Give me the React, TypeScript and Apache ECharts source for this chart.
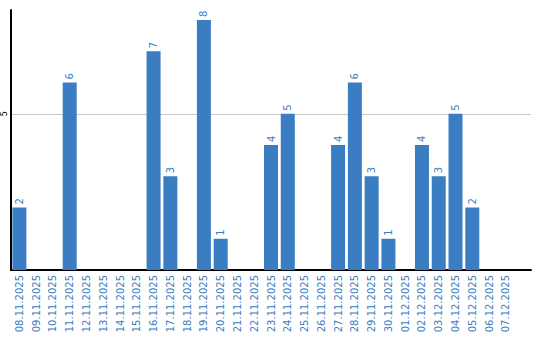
import React, { useEffect, useRef } from "react";
import * as echarts from "echarts";

const categories = [
  "08.11.2025", "09.11.2025", "10.11.2025", "11.11.2025", "12.11.2025",
  "13.11.2025", "14.11.2025", "15.11.2025", "16.11.2025", "17.11.2025",
  "18.11.2025", "19.11.2025", "20.11.2025", "21.11.2025", "22.11.2025",
  "23.11.2025", "24.11.2025", "25.11.2025", "26.11.2025", "27.11.2025",
  "28.11.2025", "29.11.2025", "30.11.2025", "01.12.2025", "02.12.2025",
  "03.12.2025", "04.12.2025", "05.12.2025", "06.12.2025", "07.12.2025",
];
const values = [
  2, 0, 0, 6, 0,
  0, 0, 0, 7, 3,
  0, 8, 1, 0, 0,
  4, 5, 0, 0, 4,
  6, 3, 1, 0, 4,
  3, 5, 2, 0, 0,
];
const gridValue = 5;

const BLUE = "#3a7dc2";

export default function App() {
  const ref = useRef<HTMLDivElement>(null);
  useEffect(() => {
    if (!ref.current) return;
    const chart = echarts.init(ref.current, null, { renderer: "svg" });
    chart.setOption({
      animation: false,
      grid: { left: 10, right: 9, top: 10, bottom: 70, containLabel: false },
      xAxis: {
        type: "category",
        data: categories,
        min: 0,
        max: 29.65,
        axisLine: { show: true, lineStyle: { color: "#000", width: 2 } },
        axisTick: { show: false },
        axisLabel: {
          interval: 0,
          rotate: 90,
          color: BLUE,
          fontSize: 10,
          fontFamily: "DejaVu Sans",
          margin: 5,
        },
      },
      yAxis: {
        type: "value",
        min: 0,
        max: 8.32,
        interval: 5,
        axisLine: { show: true, lineStyle: { color: "#000", width: 2 } },
        axisTick: { show: false },
        splitLine: { show: false },
        axisLabel: {
          show: true,
          color: "#000",
          fontSize: 8,
          fontFamily: "DejaVu Sans",
          rotate: 90,
          margin: 3,
          formatter: (v: number) => (v === gridValue ? String(gridValue) : ""),
        },
      },
      series: [
        {
          type: "bar",
          data: values,
          barWidth: 14,
          itemStyle: { color: BLUE },
          label: {
            show: true,
            position: "top",
            rotate: 90,
            align: "left",
            verticalAlign: "middle",
            distance: 3,
            color: BLUE,
            fontSize: 10,
            fontFamily: "DejaVu Sans",
            formatter: (p: any) => (p.value ? String(p.value) : ""),
          },
          markLine: {
            silent: true,
            symbol: "none",
            label: { show: false },
            lineStyle: { color: "#c8c8c8", width: 1, type: "solid" },
            data: [{ yAxis: gridValue }],
            z: 0,
          },
          z: 2,
        },
      ],
    });
    return () => chart.dispose();
  }, []);
  return (
    <div
      ref={ref}
      style={{ position: "absolute", left: 0, top: 0, width: 540, height: 340 }}
    />
  );
}
